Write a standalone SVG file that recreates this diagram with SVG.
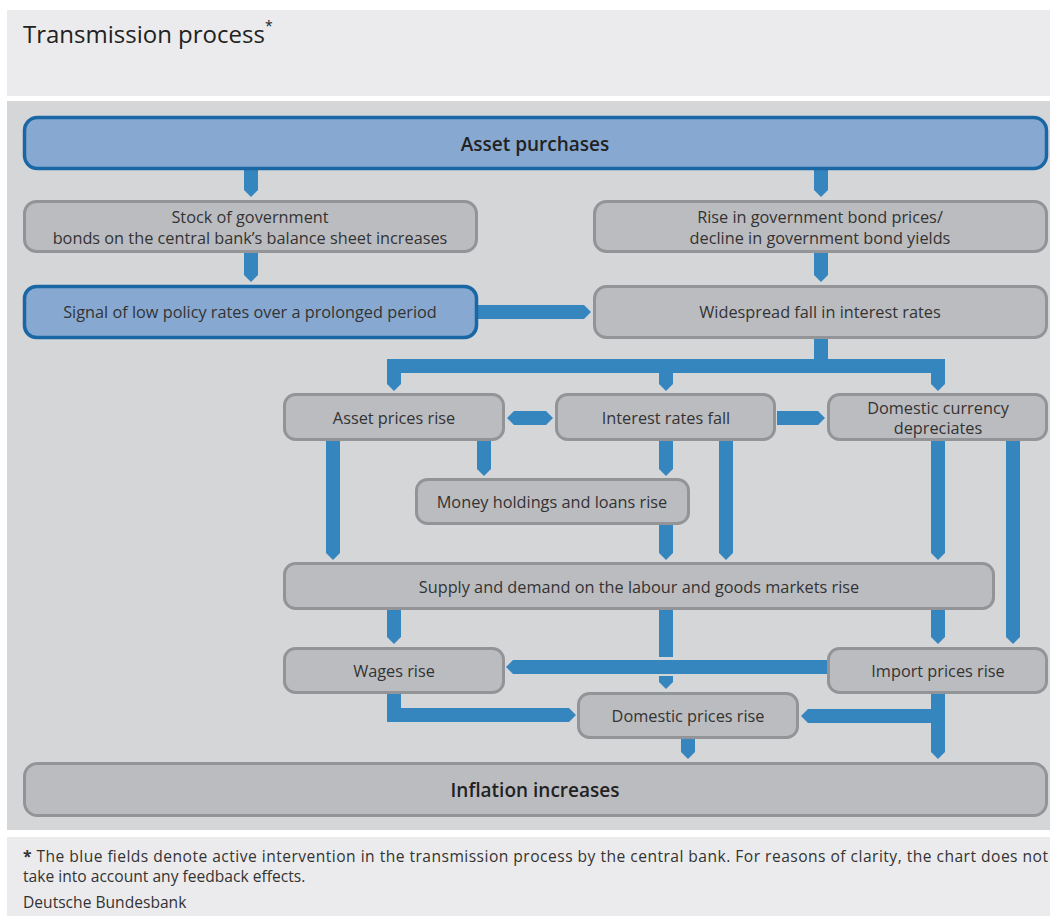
<svg xmlns="http://www.w3.org/2000/svg" width="1050" height="916" viewBox="0 0 1050 916">
<style>
.panel-light{fill:#ebebed}
.panel-main{fill:#d5d6d8}
.box{fill:#bbbcc0;stroke:#929497;stroke-width:3}
.box-blue{fill:#87a9d1;stroke:#1a67a6;stroke-width:3.5}
.t{font-family:"Open Sans","Noto Sans","Liberation Sans",sans-serif;font-size:16.3px;fill:#333333;text-anchor:middle}
.tb{font-family:"Open Sans","Noto Sans","Liberation Sans",sans-serif;font-size:19px;font-weight:600;fill:#222222;text-anchor:middle}
.title{font-family:"Open Sans","Noto Sans","Liberation Sans",sans-serif;font-size:24px;font-weight:500;fill:#222222}
.note{font-family:"Open Sans","Noto Sans","Liberation Sans",sans-serif;font-size:15.6px;fill:#333333}
.conn{fill:#3585be}
</style>
<rect x="0" y="0" width="1050" height="916" style="fill:#ffffff"/>
<rect class="panel-light" x="7" y="10" width="1043" height="86"/>
<rect class="panel-main" x="7" y="101" width="1043" height="729"/>
<rect class="panel-light" x="7" y="837" width="1043" height="79"/>

<text class="title" x="23" y="43">Transmission process<tspan font-size="14" dy="-12">*</tspan></text>

<g id="connectors" class="conn">
  <polygon points="244,170 258,170 258,190 251,197 244,190"/>
  <polygon points="814,170 828,170 828,190 821,197 814,190"/>
  <polygon points="244,253 258,253 258,275 251,282 244,275"/>
  <polygon points="814,253 828,253 828,275 821,282 814,275"/>
  <polygon points="478,305 584,305 591,312 584,319 478,319"/>
  <rect x="814" y="339" width="14" height="25"/>
  <rect x="387" y="359" width="558" height="14"/>
  <polygon points="387,366 401,366 401,384 394,391 387,384"/>
  <polygon points="659,370 673,370 673,384 666,391 659,384"/>
  <polygon points="931,366 945,366 945,384 938,391 931,384"/>
  <polygon points="507,418 514,411 546,411 553,418 546,425 514,425"/>
  <polygon points="777,411 818,411 825,418 818,425 777,425"/>
  <polygon points="326,441 340,441 340,553 333,560 326,553"/>
  <polygon points="477,441 491,441 491,469 484,476 477,469"/>
  <polygon points="659,441 673,441 673,469 666,476 659,469"/>
  <polygon points="659,525 673,525 673,553 666,560 659,553"/>
  <polygon points="719,441 733,441 733,553 726,560 719,553"/>
  <polygon points="931,441 945,441 945,553 938,560 931,553"/>
  <polygon points="1006,441 1020,441 1020,637 1013,644 1006,637"/>
  <polygon points="387,610 401,610 401,637 394,644 387,637"/>
  <rect x="659" y="610" width="14" height="47"/>
  <polygon points="659,676 673,676 673,682 666,689 659,682"/>
  <polygon points="931,610 945,610 945,637 938,644 931,637"/>
  <polygon points="827,660 513,660 506,667 513,674 827,674"/>
  <polygon points="387,694 401,694 401,708 569,708 576,715 569,722 387,722"/>
  <polygon points="931,694 945,694 945,752 938,759 931,752"/>
  <polygon points="938,709 808,709 801,716 808,723 938,723"/>
  <polygon points="681,739 695,739 695,752 688,759 681,752"/>
</g>

<g id="node-asset-purchases">
  <rect class="box-blue" x="24.5" y="117.5" width="1022" height="51" rx="13"/>
  <text class="tb" x="535" y="151">Asset purchases</text>
</g>
<g id="node-stock">
  <rect class="box" x="24.5" y="201.5" width="452" height="50" rx="12"/>
  <text class="t" x="250" y="223">Stock of government</text>
  <text class="t" x="250" y="244">bonds on the central bank’s balance sheet increases</text>
</g>
<g id="node-rise-bond-prices">
  <rect class="box" x="594.5" y="201.5" width="452" height="50" rx="12"/>
  <text class="t" x="820" y="223">Rise in government bond prices/</text>
  <text class="t" x="820" y="244">decline in government bond yields</text>
</g>
<g id="node-signal">
  <rect class="box-blue" x="24.5" y="286.5" width="452" height="51" rx="12"/>
  <text class="t" x="250" y="318">Signal of low policy rates over a prolonged period</text>
</g>
<g id="node-widespread">
  <rect class="box" x="594.5" y="286.5" width="452" height="51" rx="12"/>
  <text class="t" x="820" y="318">Widespread fall in interest rates</text>
</g>
<g id="node-asset-prices">
  <rect class="box" x="284.5" y="394.5" width="219" height="45" rx="11"/>
  <text class="t" x="394" y="424">Asset prices rise</text>
</g>
<g id="node-interest-rates">
  <rect class="box" x="556.5" y="394.5" width="218" height="45" rx="11"/>
  <text class="t" x="666" y="424">Interest rates fall</text>
</g>
<g id="node-currency">
  <rect class="box" x="828.5" y="394.5" width="218" height="45" rx="11"/>
  <text class="t" x="938" y="414">Domestic currency</text>
  <text class="t" x="938" y="434">depreciates</text>
</g>
<g id="node-money">
  <rect class="box" x="416.5" y="479.5" width="272" height="44" rx="11"/>
  <text class="t" x="552" y="508">Money holdings and loans rise</text>
</g>
<g id="node-supply-demand">
  <rect class="box" x="284.5" y="563.5" width="709" height="45" rx="11"/>
  <text class="t" x="639" y="593">Supply and demand on the labour and goods markets rise</text>
</g>
<g id="node-wages">
  <rect class="box" x="284.5" y="648.5" width="219" height="44" rx="11"/>
  <text class="t" x="394" y="677">Wages rise</text>
</g>
<g id="node-import-prices">
  <rect class="box" x="828.5" y="648.5" width="218" height="44" rx="11"/>
  <text class="t" x="938" y="677">Import prices rise</text>
</g>
<g id="node-domestic-prices">
  <rect class="box" x="578.5" y="693.5" width="219" height="44" rx="11"/>
  <text class="t" x="688" y="722">Domestic prices rise</text>
</g>
<g id="node-inflation">
  <rect class="box" x="24.5" y="763.5" width="1022" height="52" rx="13"/>
  <text class="tb" x="535" y="797">Inflation increases</text>
</g>

<text class="note" x="23" y="862" textLength="1025" lengthAdjust="spacing"><tspan font-weight="700">*</tspan> The blue fields denote active intervention in the transmission process by the central bank. For reasons of clarity, the chart does not</text>
<text class="note" x="23" y="882">take into account any feedback effects.</text>
<text class="note" x="23" y="908">Deutsche Bundesbank</text>
</svg>
